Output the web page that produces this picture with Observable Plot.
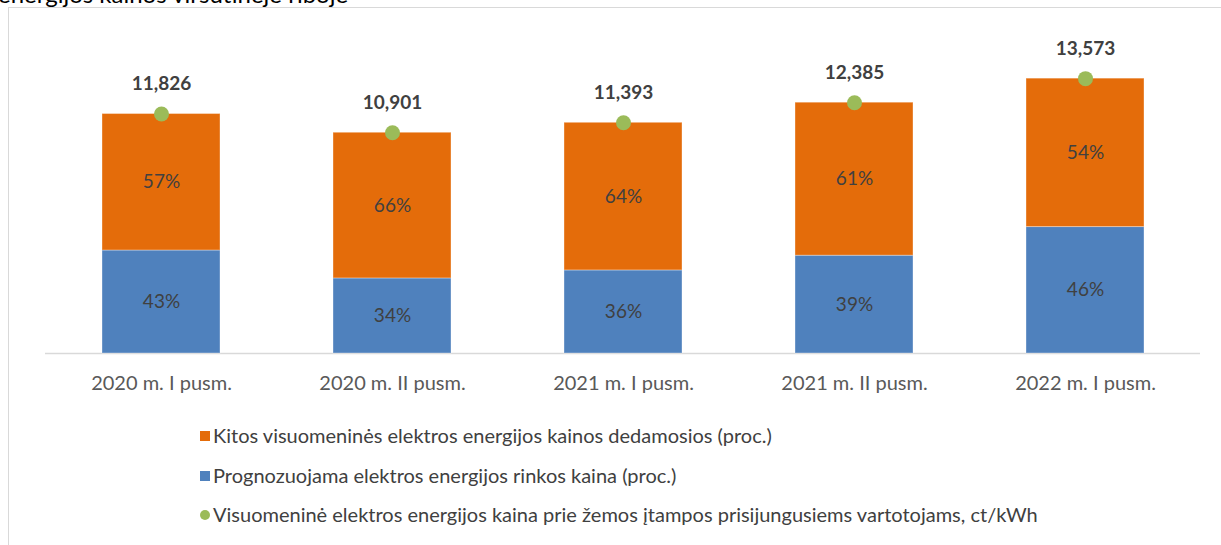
<!DOCTYPE html>
<html>
<head>
<meta charset="utf-8">
<script src="https://cdn.jsdelivr.net/npm/d3@7"></script>
<script src="https://cdn.jsdelivr.net/npm/@observablehq/plot@0.6"></script>
<style>
  html, body { margin: 0; padding: 0; background: #fff; }
  #wrap { position: relative; width: 1221px; height: 545px; overflow: hidden; font-family: Lato, "Noto Sans", sans-serif; }
  #title { position: absolute; left: -2px; top: -20px; font-size: 24px; line-height: 28px; color: #000; white-space: nowrap; }
  #frame { position: absolute; left: 8px; top: 7px; width: 1400px; height: 700px; border: 1px solid #d9d9d9; box-sizing: border-box; }
  #chart { position: absolute; left: 0; top: 0; }
  #legend { position: absolute; left: 200px; top: 422px; font-size: 20px; color: #404040; }
  .item { height: 39.5px; line-height: 26px; display: flex; align-items: flex-start; white-space: nowrap; }
  .sw { width: 10px; height: 10px; margin-right: 3px; margin-top: 9px; flex: none; }
</style>
</head>
<body>
<div id="wrap">
  <div id="title">energijos kainos viršutinėje riboje</div>
  <div id="frame"></div>
  <div id="chart"></div>
  <div id="legend"></div>
</div>
<script>
const categories = ["2020 m. I pusm.", "2020 m. II pusm.", "2021 m. I pusm.", "2021 m. II pusm.", "2022 m. I pusm."];
const totals = [11.826, 10.901, 11.393, 12.385, 13.573];
const marketPct = [43, 34, 36, 39, 46];
const otherPct = [57, 66, 64, 61, 54];
const seriesNames = [
  "Prognozuojama elektros energijos rinkos kaina (proc.)",
  "Kitos visuomeninės elektros energijos kainos dedamosios (proc.)"
];
const dotName = "Visuomeninė elektros energijos kaina prie žemos įtampos prisijungusiems vartotojams, ct/kWh";
const colors = ["#4F81BD", "#E46C0A"];
const dotColor = "#9BBB59";

const rows = [];
categories.forEach((c, i) => {
  rows.push({cat: c, series: seriesNames[0], value: totals[i] * marketPct[i] / 100, label: marketPct[i] + "%", ord: 0});
  rows.push({cat: c, series: seriesNames[1], value: totals[i] * otherPct[i] / 100, label: otherPct[i] + "%", ord: 1});
});
const totalRows = categories.map((c, i) => ({cat: c, total: totals[i]}));
const fmt = v => v.toFixed(3).replace(".", ",");

const chart = Plot.plot({
  width: 1221,
  height: 400,
  marginLeft: 45,
  marginRight: 21,
  marginTop: 29,
  marginBottom: 47,
  style: {fontFamily: "Lato, 'Noto Sans', sans-serif", background: "transparent", overflow: "visible"},
  x: {domain: categories, paddingInner: 0.49, paddingOuter: 0.245, label: null, tickSize: 0, tickPadding: 22},
  y: {domain: [0, 16], axis: null},
  color: {domain: seriesNames, range: colors},
  marks: [
    Plot.ruleY([0], {stroke: "#d9d9d9", strokeWidth: 1.3}),
    Plot.barY(rows, {x: "cat", y: "value", fill: "series", order: "ord", stroke: "#fff", strokeOpacity: 0.35, strokeWidth: 1}),
    Plot.text(rows, Plot.stackY({x: "cat", y: "value", z: "series", order: "ord", text: "label", fill: "#404040", fontSize: 19})),
    Plot.dot(totalRows, {x: "cat", y: "total", r: 7.5, fill: dotColor}),
    Plot.text(totalRows, {x: "cat", y: "total", text: d => fmt(d.total), dy: -30, fill: "#404040", fontSize: 19, fontWeight: "bold"})
  ]
});
const ax = chart.querySelector("g[aria-label='x-axis tick label']");
if (ax) { ax.setAttribute("font-size", "20"); ax.setAttribute("fill", "#595959"); }
document.getElementById("chart").appendChild(chart);

const legend = document.getElementById("legend");
const items = [
  {name: seriesNames[1], color: colors[1], round: false},
  {name: seriesNames[0], color: colors[0], round: false},
  {name: dotName, color: dotColor, round: true}
];
items.forEach(it => {
  const d = document.createElement("div");
  d.className = "item";
  const s = document.createElement("span");
  s.className = "sw";
  s.style.background = it.color;
  if (it.round) s.style.borderRadius = "50%";
  const t = document.createElement("span");
  t.textContent = it.name;
  d.appendChild(s); d.appendChild(t);
  legend.appendChild(d);
});
</script>
</body>
</html>
